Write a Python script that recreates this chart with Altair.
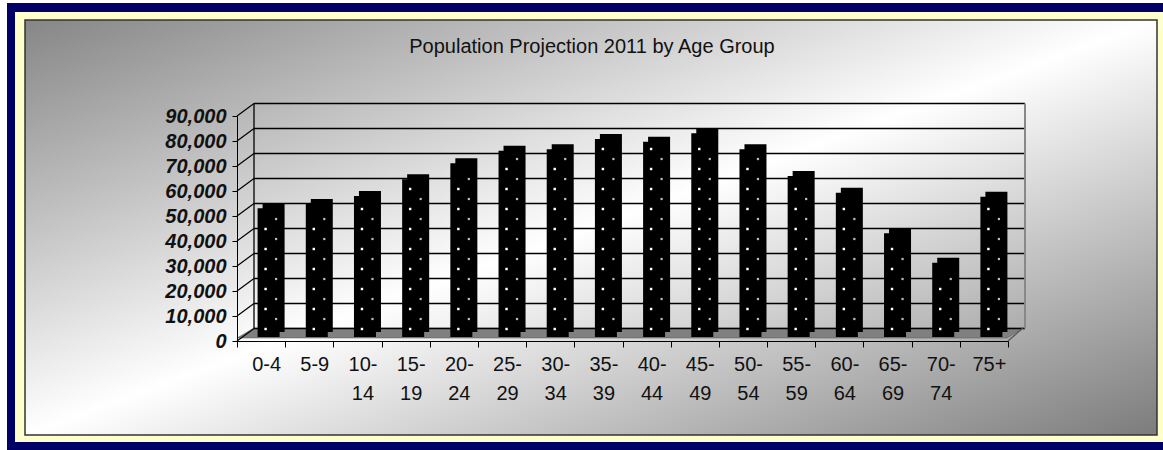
import altair as alt
import pandas as pd

# ---------------- data ----------------
categories = ["0-4", "5-9", "10-14", "15-19", "20-24", "25-29", "30-34", "35-39",
              "40-44", "45-49", "50-54", "55-59", "60-64", "65-69", "70-74", "75+"]
population = [51500, 53200, 56400, 63100, 69500, 74500, 75100, 79200,
              78100, 81500, 75100, 64400, 57700, 41500, 29700, 56100]
y_ticks = [0, 10000, 20000, 30000, 40000, 50000, 60000, 70000, 80000, 90000]
title_text = "Population Projection 2011 by Age Group"

# ---------------- layout ----------------
W, H = 771, 225          # front plot area
LEFT, TOP = 237, 116     # position of plot area in the 1163x450 page
PAGE_W, PAGE_H = 1163, 450
FONT = "Liberation Sans"
DEPTH_X, DEPTH_Y = 17, -12.5   # offset front axis -> back wall

bars = pd.DataFrame({"cat": categories, "val": population})
ticks = pd.DataFrame({"t": y_ticks})
one = pd.DataFrame({"k": [0]})

dots_a = pd.DataFrame([{"cat": c, "d": d} for c, v in zip(categories, population)
                       for d in range(3200, v - 2500, 8000)])
dots_b = pd.DataFrame([{"cat": c, "d": d} for c, v in zip(categories, population)
                       for d in range(7200, v - 2500, 8000)])

label_expr = ("length(datum.label) > 3 ? [slice(datum.label, 0, indexof(datum.label, '-') + 1), "
              "slice(datum.label, indexof(datum.label, '-') + 1)] : datum.label")

x_axis = alt.Axis(title=None, labelFont=FONT, labelFontSize=20, labelColor="#111",
                  labelAngle=0, labelLineHeight=29, labelPadding=7, labelOffset=5, tickSize=6,
                  tickColor="black", domainColor="black", tickBand="extent",
                  labelExpr=label_expr, zindex=1)
y_axis = alt.Axis(title=None, values=y_ticks, labelExpr="format(datum.value, ',')",
                  labelFont=FONT, labelFontSize=20,
                  labelFontWeight="bold", labelFontStyle="italic", labelColor="#111",
                  labelPadding=6, tickSize=5, tickColor="black", domainColor="black",
                  grid=False, zindex=1)

X = alt.X("cat:N", sort=categories, scale=alt.Scale(paddingInner=0, paddingOuter=0), axis=x_axis)
yscale = alt.Scale(domain=[0, 90000], nice=False, zero=True)


def px(v):   # absolute page x -> plot coordinates
    return v - LEFT


def py(v):
    return v - TOP


# ---------------- background frame ----------------
navy = alt.Chart(one).mark_rect(color="#000066").encode(
    x=alt.value(px(7)), x2=alt.value(px(PAGE_W + 2)),
    y=alt.value(py(3)), y2=alt.value(py(PAGE_H + 2)))
cream = alt.Chart(one).mark_rect(color="#ffffcc").encode(
    x=alt.value(px(15)), x2=alt.value(px(PAGE_W)),
    y=alt.value(py(12)), y2=alt.value(py(442)))
grad = alt.Gradient(gradient="linear", x1=0, y1=0, x2=1, y2=1, stops=[
    alt.GradientStop(offset=0, color="#868686"),
    alt.GradientStop(offset=0.5, color="#ffffff"),
    alt.GradientStop(offset=1, color="#7c7c7c")])
panel = alt.Chart(one).mark_rect(fill=grad, stroke="#333333", strokeWidth=1.5).encode(
    x=alt.value(px(25)), x2=alt.value(px(1157)),
    y=alt.value(py(20)), y2=alt.value(py(435)))

# floor slab
floor_path = "M0,222L17,212L787,212L770,222Z"
floor = alt.Chart(one).mark_point(shape=floor_path, size=4, filled=True, fill="#808080",
                                  stroke="#555555", strokeWidth=0.5, opacity=1).encode(
    x=alt.value(0), y=alt.value(0))

# back wall gridlines
grid = alt.Chart(ticks).mark_rule(color="black", strokeWidth=1.3, yOffset=DEPTH_Y).encode(
    y=alt.Y("t:Q", scale=yscale, axis=y_axis),
    x=alt.value(DEPTH_X), x2=alt.value(DEPTH_X + W))
# side wall diagonals
side = alt.Chart(ticks).mark_rule(color="black", strokeWidth=1.2, y2Offset=DEPTH_Y).encode(
    y=alt.Y("t:Q", scale=yscale, axis=y_axis), y2="t:Q",
    x=alt.value(0), x2=alt.value(DEPTH_X))
left_wall = alt.Chart(one).mark_rule(color="black", strokeWidth=1.3).encode(
    x=alt.value(DEPTH_X), y=alt.value(DEPTH_Y), y2=alt.value(H + DEPTH_Y))
right_wall = alt.Chart(one).mark_rule(color="#888888", strokeWidth=2).encode(
    x=alt.value(DEPTH_X + W), y=alt.value(DEPTH_Y), y2=alt.value(H + DEPTH_Y))
right_diag = alt.Chart(one).mark_rule(color="#555555", strokeWidth=1.2).encode(
    x=alt.value(W), x2=alt.value(W + 15), y=alt.value(H), y2=alt.value(H - 13))

# bars (depth + front face)
Y = alt.Y("val:Q", scale=yscale, axis=y_axis)
bar_back = alt.Chart(bars).mark_bar(width=22, xOffset=12.5, x2Offset=12.5, yOffset=-9,
                                    y2Offset=-9, color="#000000").encode(x=X, y=Y)
bar_front = alt.Chart(bars).mark_bar(width=22, xOffset=7.5, x2Offset=7.5, yOffset=-4,
                                     y2Offset=-4, color="#000000").encode(x=X, y=Y)

dot_a = alt.Chart(dots_a).mark_square(size=6, color="white", opacity=1, xOffset=4.5,
                                      yOffset=-4).encode(
    x=X, y=alt.Y("d:Q", scale=yscale, axis=y_axis))
dot_b = alt.Chart(dots_b).mark_square(size=5, color="#bbbbbb", opacity=1, xOffset=15,
                                      yOffset=-4).encode(
    x=X, y=alt.Y("d:Q", scale=yscale, axis=y_axis))

title = alt.Chart(one).mark_text(text=title_text, font=FONT, fontSize=20, color="#111111",
                                 align="center", baseline="alphabetic").encode(
    x=alt.value(px(592)), y=alt.value(py(53)))

chart = alt.layer(
    navy, cream, panel, floor, grid, side, left_wall, right_wall, right_diag,
    bar_back, bar_front, dot_a, dot_b, title
).properties(
    width=W, height=H,
    autosize=alt.AutoSizeParams(type="none"),
    padding={"left": LEFT, "top": TOP, "right": PAGE_W - LEFT - W, "bottom": PAGE_H - TOP - H},
    background="#ffffff",
).configure_view(strokeOpacity=0)

chart.save("out.html", embed_options={"renderer": "svg", "actions": False})
